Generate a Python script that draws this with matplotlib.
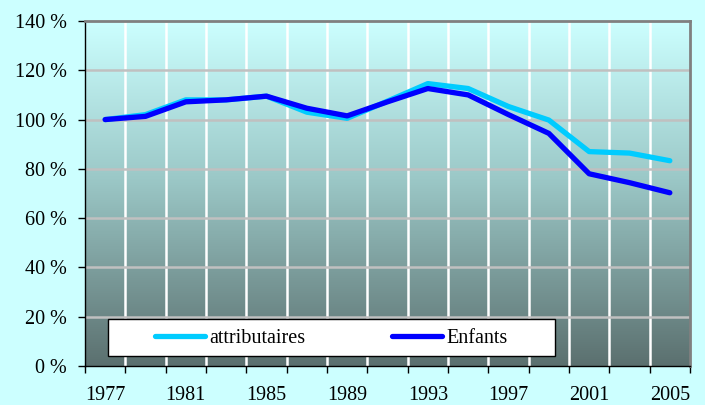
import numpy as np
import matplotlib
matplotlib.use("Agg")
import matplotlib.pyplot as plt
from matplotlib.colors import LinearSegmentedColormap
from matplotlib.patches import Rectangle
from matplotlib.ticker import FixedLocator, FuncFormatter

# data (base 100 in 1977)
years = [1977, 1979, 1981, 1983, 1985, 1987, 1989, 1991,
         1993, 1995, 1997, 1999, 2001, 2003, 2005]
attributaires = [100, 102, 108, 108, 109.5, 103, 100.5, 107.5,
                 114.6, 112.6, 105.3, 99.8, 87, 86.4, 83.3]
enfants = [100, 101.3, 107.2, 108, 109.5, 104.6, 101.5, 107.2,
           112.6, 110, 102, 94.4, 78, 74.4, 70.3]
yticks = [0, 20, 40, 60, 80, 100, 120, 140]

plt.rcParams['font.family'] = ['Liberation Serif', 'DejaVu Serif']

bg = '#CCFFFF'
fig = plt.figure(figsize=(7.05, 4.05), dpi=100, facecolor=bg)
ax = fig.add_axes([85/705, 39/405, 605/705, 345/405])

x = np.arange(len(years))
ax.set_xlim(-0.5, len(years) - 0.5)
ax.set_ylim(0, 140)

# gradient background of the plot area
grad = LinearSegmentedColormap.from_list(
    'g', [(0, '#5B706F'), (0.55, '#9CC9C8'), (1, '#CCFFFF')])
ax.imshow(np.linspace(0, 1, 256).reshape(-1, 1), cmap=grad, aspect='auto',
          origin='lower', extent=(-0.5, len(years) - 0.5, 0, 140), zorder=0)

# grid lines
for b in np.arange(0.5, len(years) - 0.5):
    ax.axvline(b, color='white', lw=1.8, zorder=1)
for v in yticks[1:-1]:
    ax.axhline(v, color='#C0C0C0', lw=1.8, zorder=1)

ax.plot(x, attributaires, color='#00CCFF', lw=3.8, zorder=3,
        solid_capstyle='round', label='attributaires')
ax.plot(x, enfants, color='#0000FF', lw=3.8, zorder=4,
        solid_capstyle='round', label='Enfants')

# axes frame
ax.spines['left'].set_color('black')
ax.spines['bottom'].set_color('black')
ax.spines['left'].set_linewidth(1)
ax.spines['bottom'].set_linewidth(1)
for s in ('top', 'right'):
    ax.spines[s].set_color('#808080')
    ax.spines[s].set_linewidth(2)

# ticks
ax.set_yticks(yticks)
ax.yaxis.set_major_formatter(FuncFormatter(lambda v, p: '%d %%' % v))
ax.xaxis.set_major_locator(FixedLocator(np.arange(-0.5, len(years), 1)))
ax.xaxis.set_major_formatter(FuncFormatter(lambda v, p: ''))
ax.xaxis.set_minor_locator(FixedLocator(x[::2]))
ax.set_xticklabels([str(y) for y in years[::2]], minor=True)
ax.tick_params(axis='x', which='minor', length=0, pad=14.5, labelsize=14.5)
ax.tick_params(axis='x', which='major', direction='out', length=5, width=1)
ax.tick_params(axis='y', direction='out', length=5, width=1, labelsize=14.5, pad=8)

# legend box
ax.add_patch(Rectangle((0.038, 0.029), 0.739, 0.107, transform=ax.transAxes,
                       facecolor='white', edgecolor='black', lw=1, zorder=5))
leg = ax.legend(loc='center left', bbox_to_anchor=(0.115, 0.08), ncol=2,
                frameon=False, fontsize=14.5, handlelength=2.5,
                handletextpad=0.2, columnspacing=4.3, borderaxespad=0,
                borderpad=0)
leg.set_zorder(6)

fig.savefig('out.png', dpi=100, facecolor=bg)
